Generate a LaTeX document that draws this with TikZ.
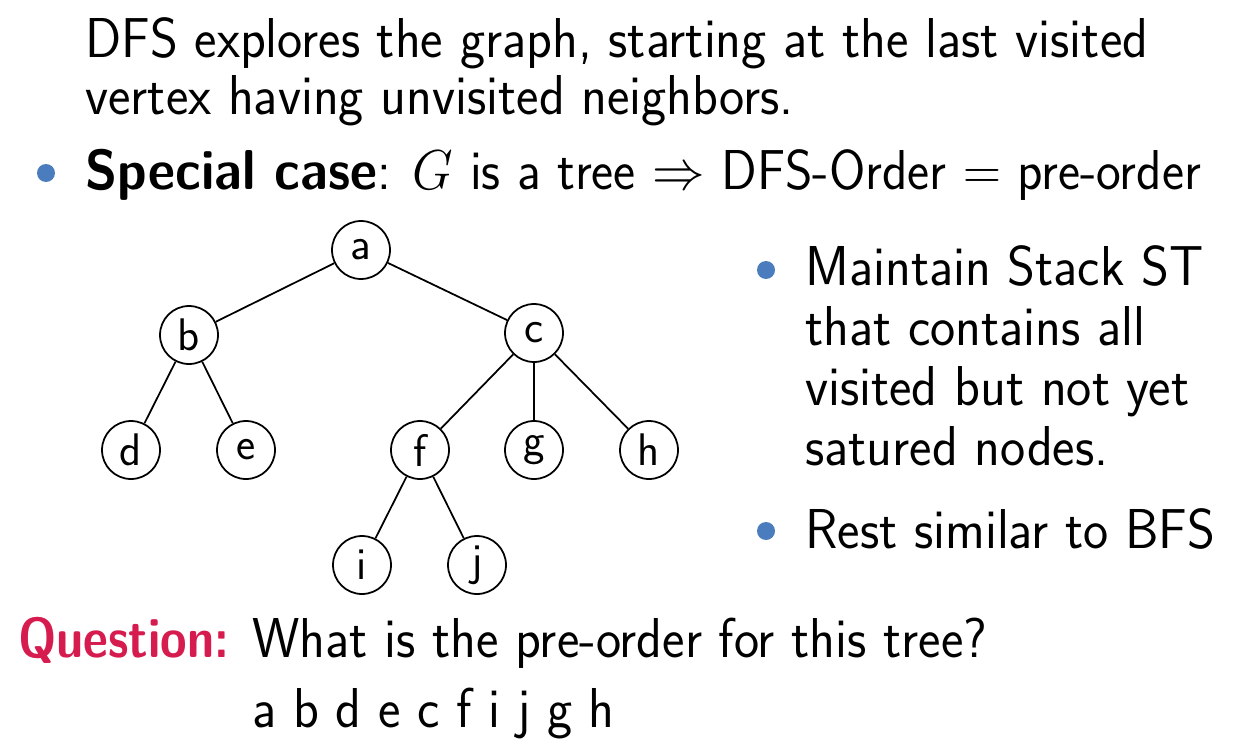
\RequirePackage{fix-cm}
\documentclass[tikz,border=0pt]{standalone}
\usepackage{amsmath}
\usepackage{tikz}
\usetikzlibrary{positioning}
\definecolor{bulletblue}{RGB}{74,124,190}
\definecolor{alertred}{RGB}{214,28,78}
\newcommand{\narrow}[2][0.95]{\scalebox{#1}[1]{#2}}

\begin{document}
\begin{tikzpicture}[x=0.02cm,y=-0.02cm,
    txt/.style={anchor=base west,inner sep=0pt,font=\sffamily\fontsize{32}{38}\selectfont},
    vertex/.style={circle,draw,line width=1pt,minimum size=1.16cm,inner sep=0pt,font=\sffamily\fontsize{26}{30}\selectfont},
    edge/.style={line width=1pt},
    bul/.style={circle,fill=bulletblue,minimum size=0.36cm,inner sep=0pt}]
    \useasboundingbox (0,0) rectangle (1243,743);
    \node[txt] (l1) at (85,58) {\narrow{DFS explores the graph, starting at the last visited}};
    \node[txt] (l2) at (85,115) {\narrow{vertex having unvisited neighbors.}};
    \node[bul] (p1) at (46,173) {};
    \node[txt] (l3) at (85,190) {\narrow[0.935]{\textbf{Special case}: $G$ is a tree $\Rightarrow$ DFS-Order $=$ pre-order}};
    \node[vertex] (a) at (361,250) {a};
    \node[vertex] (b) at (189,335) {b};
    \node[vertex] (c) at (534,333) {c};
    \node[vertex] (d) at (131,450) {d};
    \node[vertex] (e) at (246,450) {e};
    \node[vertex] (f) at (420,450) {f};
    \node[vertex] (g) at (534,450) {g};
    \node[vertex] (h) at (649,450) {h};
    \node[vertex] (i) at (362,565) {i};
    \node[vertex] (j) at (477,565) {j};
    \foreach \u/\v in {a/b,a/c,b/d,b/e,c/f,c/g,c/h,f/i,f/j}
        \draw[edge] (\u) -- (\v);
    \node[bul] (p2) at (766,270) {};
    \node[txt] (r1) at (805,285) {\narrow{Maintain Stack ST}};
    \node[txt] (r2) at (805,345) {\narrow{that contains all}};
    \node[txt] (r3) at (805,405) {\narrow{visited but not yet}};
    \node[txt] (r4) at (805,465) {\narrow{satured nodes.}};
    \node[bul] (p3) at (766,531) {};
    \node[txt] (r5) at (805,548) {\narrow{Rest similar to BFS}};
    \node[txt,text=alertred] (q) at (18,657) {\narrow[0.86]{\textbf{Question:}}};
    \node[txt] (qt) at (252,657) {\narrow{What is the pre-order for this tree?}};
    \node[txt] (ans) at (252,727) {\narrow{a b d e c f i j g h}};
\end{tikzpicture}
\end{document}
